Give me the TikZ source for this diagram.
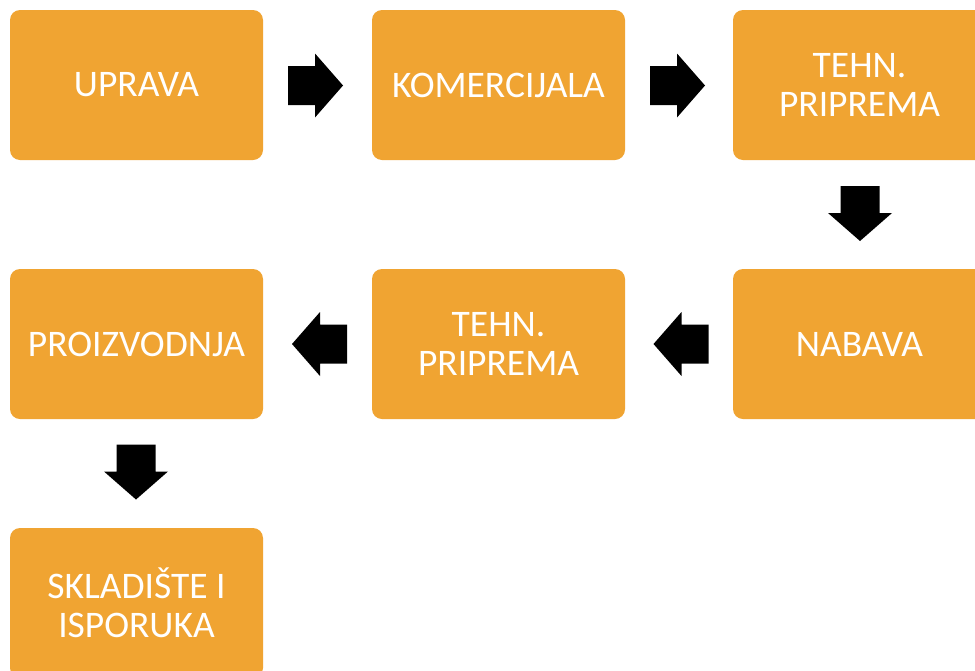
\documentclass[tikz,border=0pt]{standalone}
\usepackage{fontspec}
\setmainfont{Carlito}
\definecolor{boxorange}{RGB}{240,164,50}
\tikzset{
  stage/.style={rectangle, rounded corners=10pt, fill=boxorange, draw=none,
    minimum width=253pt, minimum height=150pt, inner sep=0pt,
    text=white, align=center,
    font=\fontsize{37.5pt}{39.5pt}\selectfont},
  blockarr/.style={fill=black, draw=none}
}
\begin{document}
\begin{tikzpicture}[x=1pt,y=-1pt]
\clip (0,0) rectangle (975,670);
\fill[white] (0,0) rectangle (975,670);
% stages
\node[stage] (upr) at (136.5,85) {UPRAVA};
\node[stage] (kom) at (498.5,85) {KOMERCIJALA};
\node[stage] (teh1) at (859.5,85) {TEHN.\\PRIPREMA};
\node[stage] (nab) at (859.5,344) {NABAVA};
\node[stage] (teh2) at (498.5,344) {TEHN.\\PRIPREMA};
\node[stage] (pro) at (136.5,344) {PROIZVODNJA};
\node[stage] (skl) at (136.5,603) {SKLADIŠTE I\\ISPORUKA};
% block arrows: right
\fill[blockarr] (288,66) -- (315,66) -- (315,53.5) -- (343,85.5) -- (315,117.5) -- (315,105) -- (288,105) -- cycle;
\fill[blockarr] (650,66) -- (677,66) -- (677,53.5) -- (705,85.5) -- (677,117.5) -- (677,105) -- (650,105) -- cycle;
% down
\fill[blockarr] (840.5,186) -- (840.5,213) -- (828,213) -- (860,241) -- (892,213) -- (879.5,213) -- (879.5,186) -- cycle;
\fill[blockarr] (116.5,444.5) -- (116.5,471.5) -- (104,471.5) -- (136,499.5) -- (168,471.5) -- (155.5,471.5) -- (155.5,444.5) -- cycle;
% left
\fill[blockarr] (708.5,324.5) -- (681.5,324.5) -- (681.5,312) -- (653.5,344) -- (681.5,376) -- (681.5,363.5) -- (708.5,363.5) -- cycle;
\fill[blockarr] (347,324.5) -- (320,324.5) -- (320,312) -- (292,344) -- (320,376) -- (320,363.5) -- (347,363.5) -- cycle;
\end{tikzpicture}
\end{document}
